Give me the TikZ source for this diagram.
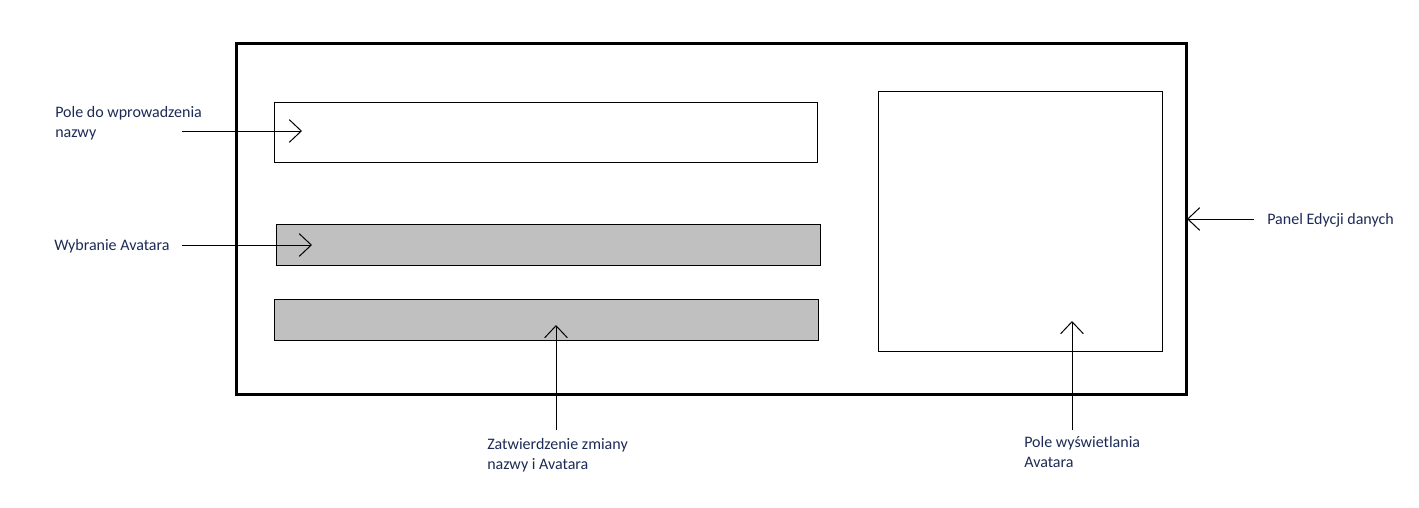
\documentclass[tikz,border=0pt]{standalone}
\usepackage{fontspec}
\setmainfont{Carlito}
\usepackage{tikz}
\usetikzlibrary{
    arrows.meta,
    positioning
}
\definecolor{labelblue}{RGB}{28,42,85}
\definecolor{fieldgray}{RGB}{192,192,192}

\begin{document}
\begin{tikzpicture}[x=0.75pt, y=-0.75pt,
    box/.style={draw, line width=0.75pt, inner sep=0pt},
    lbl/.style={text=labelblue, font=\fontsize{12}{15}\selectfont, align=left, inner sep=0pt},
    ptr/.style={-{Straight Barb[length=9pt, width=17pt]}, line width=0.75pt}]
                        \useasboundingbox (0, 0) rectangle (1419, 507);

                        % okno
                        \node[box, line width=2.25pt, minimum width=712.5pt, minimum height=263.25pt] (panel) at (711, 218.5) {};
                        \node[box, minimum width=407.25pt, minimum height=45pt] (nazwa) at (545.5, 132) {};
                        \node[box, fill=fieldgray, minimum width=408pt, minimum height=30.75pt] (wybor) at (548, 244.5) {};
                        \node[box, fill=fieldgray, minimum width=408pt, minimum height=30.75pt] (zatw) at (546, 319.5) {};
                        \node[box, minimum width=213pt, minimum height=195pt] (avatar) at (1020, 221) {};

                        % opisy
                        \node[lbl, anchor=west] (lnazwa) at (55, 123) {Pole do wprowadzenia\\nazwy};
                        \node[lbl, anchor=west] (lwybor) at (54, 246) {Wybranie Avatara};
                        \node[lbl, anchor=west] (lpanel) at (1267, 220) {Panel Edycji danych};
                        \node[lbl, anchor=north west] (lzatw) at (487, 438) {Zatwierdzenie zmiany\\nazwy i Avatara};
                        \node[lbl, anchor=north west] (lavatar) at (1024, 436) {Pole wyświetlania\\Avatara};

                        \coordinate (nazwa0) at (182, 131);
                        \coordinate (nazwa1) at (302, 131);
                        \coordinate (wybor0) at (182, 245);
                        \coordinate (wybor1) at (312, 245);
                        \coordinate (panel0) at (1254, 219);
                        \coordinate (panel1) at (1187, 219);
                        \coordinate (zatw0) at (556, 430);
                        \coordinate (zatw1) at (556, 325);
                        \coordinate (avatar0) at (1072, 430);
                        \coordinate (avatar1) at (1072, 321);

                        \draw
                        (nazwa0) edge[ptr] (nazwa1)
                        (wybor0) edge[ptr] (wybor1)
                        (panel0) edge[ptr] (panel1)
                        (zatw0) edge[ptr] (zatw1)
                        (avatar0) edge[ptr] (avatar1);
                    \end{tikzpicture}
\end{document}
